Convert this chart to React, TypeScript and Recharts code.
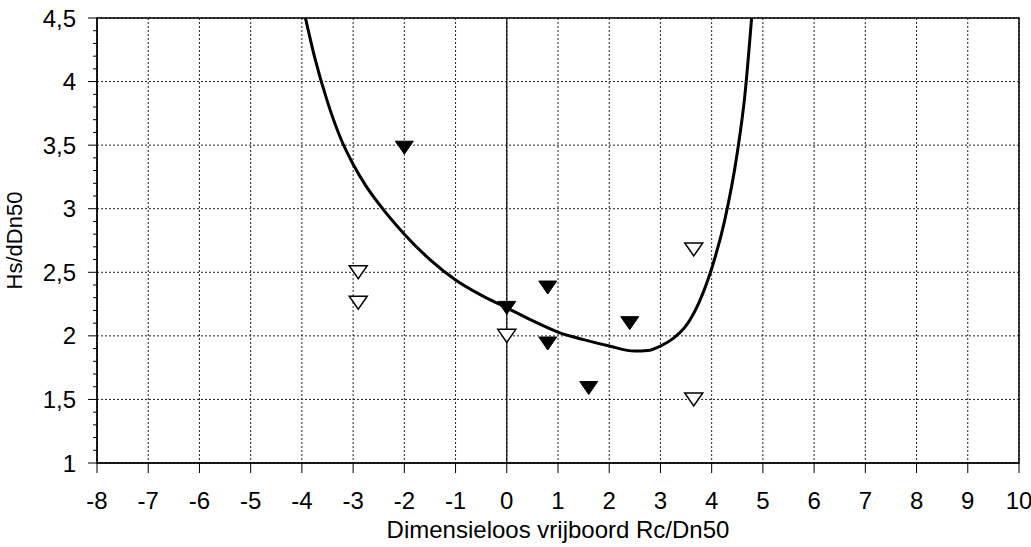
import React from "react";
import {
  ComposedChart, Line, Scatter, XAxis, YAxis, CartesianGrid, ReferenceLine, ReferenceArea,
} from "recharts";

// measured points
const filledX = [-2, 0, 0.8, 0.8, 1.6, 2.4];
const filledY = [3.48, 2.22, 2.38, 1.94, 1.59, 2.1];
const openX = [-2.9, -2.9, 0, 3.65, 3.65];
const openY = [2.5, 2.26, 2.0, 2.68, 1.5];

// fitted curve
const curveX = [
  -3.93, -3.75, -3.5, -3.25, -3.0, -2.75, -2.5, -2.0, -1.5, -1.0, -0.5, 0, 0.5, 1, 1.5, 2,
  2.5, 2.75, 3.0, 3.25, 3.5, 3.75, 4.0, 4.25, 4.5, 4.65, 4.78,
];
const curveY = [
  4.5, 4.19, 3.84, 3.56, 3.35, 3.18, 3.04, 2.8, 2.6, 2.44, 2.32, 2.22, 2.12, 2.03, 1.97, 1.92,
  1.88, 1.885, 1.92, 1.98, 2.08, 2.26, 2.53, 2.9, 3.44, 3.9, 4.5,
];

const xTicks = [-8, -7, -6, -5, -4, -3, -2, -1, 0, 1, 2, 3, 4, 5, 6, 7, 8, 9, 10];
const yMajor = [1, 1.5, 2, 2.5, 3, 3.5, 4, 4.5];
const yMinor = [
  1, 1.1, 1.2, 1.3, 1.4, 1.5, 1.6, 1.7, 1.8, 1.9, 2, 2.1, 2.2, 2.3, 2.4, 2.5, 2.6, 2.7, 2.8, 2.9,
  3, 3.1, 3.2, 3.3, 3.4, 3.5, 3.6, 3.7, 3.8, 3.9, 4, 4.1, 4.2, 4.3, 4.4, 4.5,
];

const FONT = "'Liberation Sans', Arial, sans-serif";

const zip = (xs: number[], ys: number[]) => xs.map((x, i) => ({ x, y: ys[i] }));
const filled = zip(filledX, filledY);
const open = zip(openX, openY);
const curve = zip(curveX, curveY);

const isMajor = (v: number) => yMajor.some((m) => Math.abs(m - v) < 1e-6);

function YTick(props: any) {
  const { x, y, payload } = props;
  const major = isMajor(payload.value);
  return (
    <g>
      <line x1={major ? x + 12 : x + 17} x2={x + 21} y1={y} y2={y} stroke="#000" strokeWidth={1} />
      {major && (
        <text x={x} y={y} dy="0.36em" textAnchor="end" fontSize={24} fontFamily={FONT} fill="#000">
          {String(payload.value).replace(".", ",")}
        </text>
      )}
    </g>
  );
}

function Tri(props: any) {
  const { cx, cy, hollow } = props;
  const pts = `${cx - 9},${cy - 6.5} ${cx + 9},${cy - 6.5} ${cx},${cy + 6.5}`;
  return (
    <polygon
      points={pts}
      fill={hollow ? "#fff" : "#000"}
      stroke="#000"
      strokeWidth={hollow ? 1.5 : 1}
    />
  );
}

export default function App() {
  return (
    <div style={{ position: "absolute", left: 0, top: 0, background: "#fff" }}>
      <ComposedChart width={1031} height={547} margin={{ top: 18, right: 12, left: 0, bottom: 0 }}>
        <CartesianGrid
          stroke="#222"
          strokeDasharray="2 2"
          horizontalValues={yMajor}
          verticalValues={xTicks}
        />
        <XAxis
          type="number"
          dataKey="x"
          domain={[-8, 10]}
          ticks={xTicks}
          interval={0}
          allowDataOverflow
          height={84}
          tickSize={10}
          tickMargin={19}
          stroke="#000"
          tick={{ fontSize: 24, fontFamily: FONT, fill: "#000" }}
          label={{
            value: "Dimensieloos vrijboord Rc/Dn50",
            position: "insideBottom",
            offset: 9,
            style: { fontSize: 24, fontFamily: FONT, fill: "#000" },
          }}
        />
        <YAxis
          type="number"
          dataKey="y"
          domain={[1, 4.5]}
          ticks={yMinor}
          interval={0}
          allowDataOverflow
          width={97}
          tickSize={0}
          tickMargin={21}
          tickLine={false}
          stroke="#000"
          tick={<YTick />}
          label={{
            value: "Hs/dDn50",
            angle: -90,
            position: "insideLeft",
            offset: 14,
            style: { fontSize: 22, fontFamily: FONT, fill: "#000", textAnchor: "middle" },
          }}
        />
        <ReferenceArea x1={-8} x2={10} y1={1} y2={4.5} fill="none" stroke="#000" strokeWidth={1.5} />
        <ReferenceLine x={0} stroke="#000" strokeWidth={1.2} />
        <Line
          data={curve}
          dataKey="y"
          type="monotone"
          stroke="#000"
          strokeWidth={3}
          dot={false}
          isAnimationActive={false}
        />
        <Scatter data={filled} dataKey="y" shape={<Tri />} isAnimationActive={false} />
        <Scatter data={open} dataKey="y" shape={<Tri hollow />} isAnimationActive={false} />
      </ComposedChart>
    </div>
  );
}
